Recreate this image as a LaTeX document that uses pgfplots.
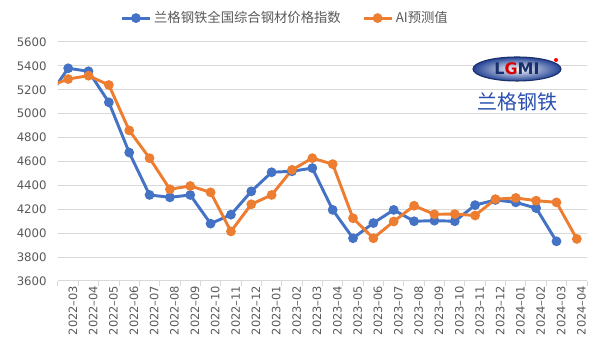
\documentclass[border=0pt]{standalone}
\usepackage{fontspec}
\setmainfont{DejaVu Sans}
\newfontfamily\cjk{Noto Sans CJK SC}
\usepackage{pgfplots}
\pgfplotsset{compat=1.18}
\definecolor{sblue}{HTML}{4472C4}
\definecolor{sorange}{HTML}{ED7D31}
\definecolor{gridc}{HTML}{D9D9D9}
\definecolor{txt}{HTML}{595959}
\definecolor{logob}{HTML}{2A4FB0}
\begin{document}
\begin{tikzpicture}[x=0.75pt,y=0.75pt]
\useasboundingbox (0,0) rectangle (600,359);
\begin{axis}[
  at={(43.5pt,58.5pt)}, anchor=south west,
  scale only axis, width=396.75pt, height=179.25pt,
  xmin=-0.5, xmax=25.5, ymin=3600, ymax=5600,
  axis x line*=bottom, axis y line*=left,
  y axis line style={draw=none},
  x axis line style={draw=gridc, line width=0.75pt},
  ytick={3600,3800,...,5600},
  ymajorgrids, grid style={draw=gridc, line width=0.75pt},
  xtick={0,...,25},
  xticklabels={2022–03,2022–04,2022–05,2022–06,2022–07,2022–08,2022–09,2022–10,2022–11,2022–12,2023–01,2023–02,2023–03,2023–04,2023–05,2023–06,2023–07,2023–08,2023–09,2023–10,2023–11,2023–12,2024–01,2024–02,2024–03,2024–04},
  minor xtick={-0.5,0.5,...,25.5},
  major tick length=0pt, minor tick length=4pt, tick align=outside,
  minor x tick style={draw=gridc, line width=0.75pt},
  xticklabel style={rotate=90, anchor=east, font=\fontsize{8.6}{10}\selectfont, text=txt, yshift=-3.5pt},
  yticklabel style={font=\fontsize{8.8}{10}\selectfont, text=txt, xshift=-5pt},
  /pgf/number format/assume math mode=true,
  /pgf/number format/1000 sep={},
  clip=true,
  legend columns=2,
  legend style={draw=none, fill=none, at={(0.43,1.10)}, anchor=center,
    font=\cjk\fontsize{10}{11}\selectfont, text=txt,
    /tikz/every even column/.append style={column sep=14pt}},
  legend image code/.code={\draw[mark repeat=2,mark phase=2] plot coordinates {(0cm,0cm) (0.37cm,0cm) (0.74cm,0cm)};},
]
\addplot[sblue, line width=2.2pt, mark=*, mark size=2.5pt, mark options={solid}] coordinates {
(0,5380) (1,5355) (2,5095) (3,4675) (4,4320) (5,4300) (6,4320) (7,4080) (8,4155) (9,4350) (10,4510) (11,4518) (12,4545) (13,4195) (14,3958) (15,4085) (16,4195) (17,4100) (18,4105) (19,4100) (20,4235) (21,4278) (22,4258) (23,4210) (24,3932)};
\addlegendentry{兰格钢铁全国综合钢材价格指数}
\addplot[sorange, line width=2.2pt, mark=*, mark size=2.5pt, mark options={solid}] coordinates {
(0,5290) (1,5318) (2,5240) (3,4860) (4,4628) (5,4368) (6,4395) (7,4342) (8,4015) (9,4242) (10,4320) (11,4530) (12,4628) (13,4578) (14,4125) (15,3958) (16,4098) (17,4230) (18,4158) (19,4160) (20,4148) (21,4285) (22,4295) (23,4272) (24,4258) (25,3952)};
\addlegendentry{AI预测值}
\addplot[sblue, line width=2.2pt, forget plot] coordinates {(-1,5134) (0,5380)};
\addplot[sorange, line width=2.2pt, forget plot] coordinates {(-1,5224) (0,5290)};
\end{axis}
% logo
\shade[inner color=white, outer color=logob!85!black] (517,290) ellipse [x radius=33pt, y radius=9pt];
\draw[logob!60!black, line width=0.8pt] (517,290) ellipse [x radius=33pt, y radius=9pt];
\node[font=\bfseries\fontsize{12}{12}\selectfont, inner sep=0pt] at (517,290) {\textcolor{logob!60!black}{L}\textcolor{red!85!black}{G}\textcolor{logob!60!black}{MI}};
\fill[red] (556,299) circle (1.5pt);
\node[text=logob, font=\cjk\fontsize{15}{15}\selectfont] at (517,257) {兰格钢铁};
\end{tikzpicture}
\end{document}
